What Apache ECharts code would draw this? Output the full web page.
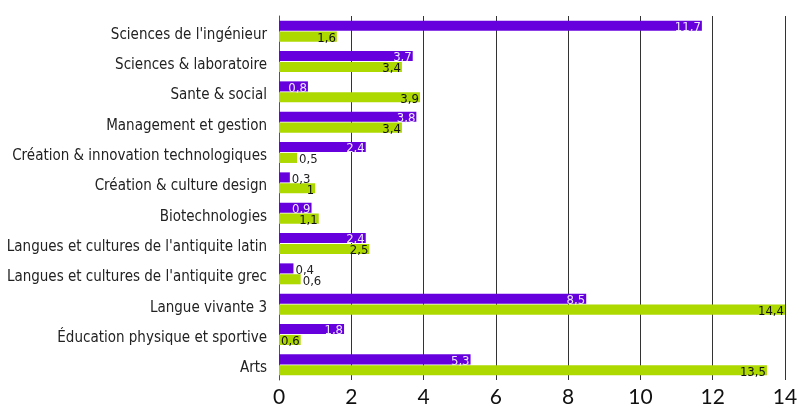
<!DOCTYPE html>
<html>
<head>
<meta charset="utf-8">
<script src="https://cdn.jsdelivr.net/npm/echarts@6/dist/echarts.min.js"></script>
<style>
  html, body { margin: 0; padding: 0; background: #fff; }
  #chart { width: 802px; height: 408px; }
</style>
</head>
<body>
<div id="chart"></div>
<script>
var categories = [
  "Sciences de l'ingénieur",
  'Sciences & laboratoire',
  'Sante & social',
  'Management et gestion',
  'Création & innovation technologiques',
  'Création & culture design',
  'Biotechnologies',
  "Langues et cultures de l'antiquite latin",
  "Langues et cultures de l'antiquite grec",
  'Langue vivante 3',
  'Éducation physique et sportive',
  'Arts'
];
var purpleValues = [11.7, 3.7, 0.8, 3.8, 2.4, 0.3, 0.9, 2.4, 0.4, 8.5, 1.8, 5.3];
var greenValues = [1.6, 3.4, 3.9, 3.4, 0.5, 1, 1.1, 2.5, 0.6, 14.4, 0.6, 13.5];
// which labels sit outside the bar end
var purpleOutside = [5, 8];
var greenOutside = [4, 8];
var xTicks = [0, 2, 4, 6, 8, 10, 12, 14];

var catFont = "'Liberation Sans Narrow', 'DejaVu Sans Condensed', 'Roboto', sans-serif";

function fmt(v) {
  return String(v).replace('.', ',');
}

function makeData(values, outside, insideColor) {
  return values.map(function (v, i) {
    var out = outside.indexOf(i) >= 0;
    return {
      value: v,
      label: {
        position: out ? 'right' : 'insideRight',
        distance: out ? 2 : 1,
        color: out ? '#222' : insideColor
      }
    };
  });
}

var chart = echarts.init(document.getElementById('chart'));
chart.setOption({
  animation: false,
  grid: { left: 279, right: 17, top: 16, bottom: 26, containLabel: false },
  xAxis: {
    type: 'value',
    min: xTicks[0],
    max: xTicks[xTicks.length - 1],
    interval: 2,
    axisLine: { show: false },
    axisTick: { show: false },
    axisLabel: { fontSize: 21, color: '#111', fontFamily: 'Lato, sans-serif', margin: 7 },
    splitLine: { show: true, lineStyle: { color: '#333', width: 1 } }
  },
  yAxis: {
    type: 'category',
    data: categories,
    inverse: true,
    axisLine: { show: true, lineStyle: { color: '#555', width: 1 } },
    axisTick: { show: false },
    axisLabel: {
      fontSize: 15, color: '#222', fontFamily: catFont, margin: 12,
      verticalAlign: 'top', lineHeight: 7
    }
  },
  series: [
    {
      type: 'bar',
      data: makeData(purpleValues, purpleOutside, '#eee6ff'),
      itemStyle: { color: '#6600dd' },
      barGap: '8%',
      barCategoryGap: '31%',
      label: {
        show: true,
        fontSize: 13,
        fontFamily: catFont,
        offset: [0, 2],
        formatter: function (p) { return fmt(p.value); }
      }
    },
    {
      type: 'bar',
      data: makeData(greenValues, greenOutside, '#111'),
      itemStyle: { color: '#add800' },
      barGap: '8%',
      barCategoryGap: '31%',
      label: {
        show: true,
        fontSize: 13,
        fontFamily: catFont,
        offset: [0, 2],
        formatter: function (p) { return fmt(p.value); }
      }
    }
  ]
});
</script>
</body>
</html>
